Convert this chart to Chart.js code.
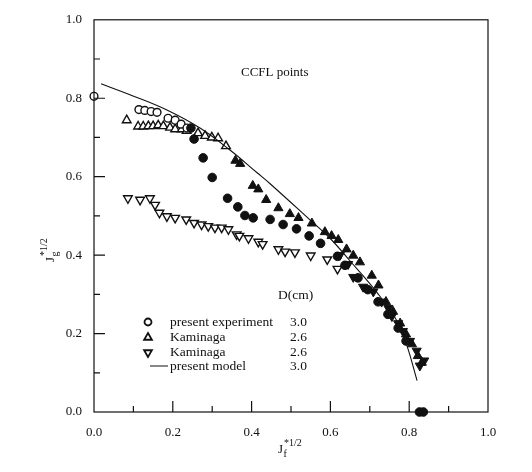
<!DOCTYPE html>
<html>
<head>
<meta charset="utf-8">
<script src="https://cdn.jsdelivr.net/npm/chart.js@4"></script>
<style>
  html, body { margin: 0; padding: 0; background: #fff; }
</style>
</head>
<body>
<canvas id="ccflChart" width="532" height="472"></canvas>
<script>
// values
const xTicks = [0, 0.2, 0.4, 0.6, 0.8, 1.0];
const yTicks = [0, 0.2, 0.4, 0.6, 0.8, 1.0];

// present experiment, D = 3.0 cm (open = flooding, filled = other set)
const openCircleX = [0.0, 0.114, 0.129, 0.145, 0.160, 0.188, 0.206, 0.221, 0.236];
const openCircleY = [0.805, 0.771, 0.769, 0.766, 0.764, 0.749, 0.744, 0.734, 0.724];
const filledCircleX = [0.246, 0.254, 0.277, 0.300, 0.339, 0.365, 0.383, 0.404, 0.447, 0.480, 0.514, 0.546,
  0.575, 0.618, 0.637, 0.670, 0.695, 0.721, 0.746, 0.772, 0.792, 0.826, 0.836];
const filledCircleY = [0.724, 0.696, 0.648, 0.598, 0.545, 0.523, 0.501, 0.495, 0.491, 0.478, 0.467, 0.449,
  0.430, 0.397, 0.374, 0.342, 0.312, 0.281, 0.249, 0.214, 0.181, 0.0, 0.0];

// Kaminaga, D = 2.6 cm (up triangles)
const openTriX = [0.083, 0.112, 0.125, 0.138, 0.150, 0.163, 0.176, 0.193, 0.206, 0.223, 0.235, 0.264,
  0.282, 0.299, 0.315, 0.335];
const openTriY = [0.744, 0.728, 0.728, 0.729, 0.729, 0.731, 0.729, 0.725, 0.721, 0.721, 0.717, 0.711,
  0.704, 0.700, 0.698, 0.678];
const filledTriX = [0.359, 0.371, 0.403, 0.417, 0.437, 0.468, 0.497, 0.519, 0.553, 0.586, 0.603, 0.620,
  0.641, 0.658, 0.675, 0.705, 0.722, 0.741, 0.759, 0.777, 0.792, 0.807, 0.822, 0.832];
const filledTriY = [0.641, 0.633, 0.577, 0.568, 0.541, 0.520, 0.505, 0.495, 0.481, 0.459, 0.449, 0.439,
  0.415, 0.399, 0.382, 0.348, 0.323, 0.281, 0.256, 0.226, 0.198, 0.173, 0.143, 0.126];

// Kaminaga, D = 2.6 cm (down triangles)
const openInvX = [0.086, 0.117, 0.142, 0.155, 0.166, 0.185, 0.206, 0.234, 0.254, 0.273, 0.290, 0.307,
  0.324, 0.341, 0.362, 0.369, 0.392, 0.417, 0.428, 0.468, 0.485, 0.510, 0.550, 0.592, 0.618];
const openInvY = [0.545, 0.541, 0.545, 0.528, 0.508, 0.499, 0.495, 0.491, 0.482, 0.478, 0.474, 0.470,
  0.470, 0.466, 0.453, 0.449, 0.443, 0.434, 0.428, 0.415, 0.409, 0.407, 0.399, 0.389, 0.365];
const filledInvX = [0.624, 0.645, 0.658, 0.683, 0.709, 0.730, 0.747, 0.756, 0.772, 0.784, 0.802, 0.819,
  0.827, 0.838];
const filledInvY = [0.400, 0.377, 0.344, 0.319, 0.307, 0.281, 0.265, 0.244, 0.226, 0.206, 0.181, 0.156,
  0.118, 0.131];

// present model, D = 3.0 cm
const modelX = [0.018, 0.099, 0.185, 0.269, 0.345, 0.414, 0.447, 0.548, 0.599, 0.650, 0.718, 0.769, 0.794, 0.820];
const modelY = [0.837, 0.806, 0.770, 0.724, 0.668, 0.610, 0.582, 0.490, 0.443, 0.385, 0.305, 0.232, 0.170, 0.080];

const legendRows = [
  { style: "circle", rotation: 0, label: "present experiment", d: "3.0" },
  { style: "triangle", rotation: 0, label: "Kaminaga", d: "2.6" },
  { style: "triangle", rotation: 180, label: "Kaminaga", d: "2.6" },
  { style: "line", rotation: 0, label: "present model", d: "3.0" }
];

const FONT = "Liberation Serif, Times New Roman, serif";
const INK = "#111";

function pts(xs, ys) {
  return xs.map((x, i) => ({ x: x, y: ys[i] }));
}

function markerSet(label, xs, ys, style, rotation, filled, radius) {
  return {
    type: "scatter",
    label: label,
    data: pts(xs, ys),
    pointStyle: style,
    rotation: rotation,
    pointRadius: radius,
    pointBorderWidth: filled ? 1 : 1.4,
    pointBorderColor: INK,
    pointBackgroundColor: filled ? INK : "#fff",
    showLine: false,
    clip: false
  };
}

function drawMarker(ctx, style, rotation, x, y, r) {
  ctx.save();
  ctx.translate(x, y);
  ctx.rotate(rotation * Math.PI / 180);
  ctx.beginPath();
  if (style === "circle") {
    ctx.arc(0, 0, r, 0, Math.PI * 2);
  } else {
    for (let k = 0; k < 3; k++) {
      const a = k * 2 * Math.PI / 3;
      const px = Math.sin(a) * r, py = -Math.cos(a) * r;
      if (k === 0) ctx.moveTo(px, py); else ctx.lineTo(px, py);
    }
    ctx.closePath();
  }
  ctx.fillStyle = "#fff";
  ctx.fill();
  ctx.lineWidth = 1.8;
  ctx.strokeStyle = INK;
  ctx.stroke();
  ctx.restore();
}

// J with a subscript and a "*1/2" superscript
function drawFlux(ctx, x, y, sub) {
  ctx.textAlign = "left";
  ctx.textBaseline = "alphabetic";
  ctx.font = "13px " + FONT;
  ctx.fillText("J", x, y);
  const w = ctx.measureText("J").width;
  ctx.font = "10px " + FONT;
  ctx.fillText(sub, x + w + 0.5, y + 3.5);
  ctx.fillText("*1/2", x + w + 1, y - 7);
}

const framePlugin = {
  id: "frame",
  afterDraw(chart) {
    const ctx = chart.ctx;
    const a = chart.chartArea;
    const xs = chart.scales.x, ys = chart.scales.y;
    ctx.save();
    ctx.strokeStyle = INK;
    ctx.lineWidth = 1.2;
    ctx.strokeRect(a.left, a.top, a.right - a.left, a.bottom - a.top);

    // inward ticks, major every 0.2, minor in between
    ctx.beginPath();
    for (let i = 1; i < 10; i++) {
      const len = i % 2 === 0 ? 11 : 6;
      const px = xs.getPixelForValue(i / 10);
      ctx.moveTo(px, a.bottom);
      ctx.lineTo(px, a.bottom - len);
      const py = ys.getPixelForValue(i / 10);
      ctx.moveTo(a.left, py);
      ctx.lineTo(a.left + len, py);
    }
    ctx.stroke();

    ctx.fillStyle = INK;
    // axis titles
    drawFlux(ctx, 278, 453, "f");
    ctx.save();
    ctx.translate(54, 262);
    ctx.rotate(-Math.PI / 2);
    drawFlux(ctx, 0, 0, "g");
    ctx.restore();

    // note
    ctx.font = "13px " + FONT;
    ctx.textAlign = "left";
    ctx.textBaseline = "alphabetic";
    ctx.fillText("CCFL points", 241, 76);

    // legend
    ctx.textBaseline = "middle";
    ctx.font = "13.5px " + FONT;
    ctx.fillText("D(cm)", 278, 295);
    const rowY = [322, 337.5, 352.5, 366];
    legendRows.forEach((row, i) => {
      const y = rowY[i];
      if (row.style === "line") {
        ctx.beginPath();
        ctx.lineWidth = 1;
        ctx.moveTo(150, y);
        ctx.lineTo(168, y);
        ctx.stroke();
      } else {
        drawMarker(ctx, row.style, row.rotation, 148, y, row.style === "circle" ? 3.5 : 4.5);
      }
      ctx.fillText(row.label, 170, y);
      ctx.fillText(row.d, 290, y);
    });
    ctx.restore();
  }
};

document.addEventListener("DOMContentLoaded", function () {
  const ctx = document.getElementById("ccflChart").getContext("2d");

  new Chart(ctx, {
    data: {
      datasets: [
        {
          type: "line",
          label: "present model",
          data: pts(modelX, modelY),
          borderColor: INK,
          borderWidth: 1.1,
          pointRadius: 0,
          fill: false,
          tension: 0.4,
          clip: false
        },
        markerSet("present experiment (filled)", filledCircleX, filledCircleY, "circle", 0, true, 4.3),
        markerSet("Kaminaga up (filled)", filledTriX, filledTriY, "triangle", 0, true, 5.3),
        markerSet("Kaminaga down (filled)", filledInvX, filledInvY, "triangle", 180, true, 5.3),
        markerSet("present experiment", openCircleX, openCircleY, "circle", 0, false, 3.9),
        markerSet("Kaminaga up", openTriX, openTriY, "triangle", 0, false, 5),
        markerSet("Kaminaga down", openInvX, openInvY, "triangle", 180, false, 5)
      ]
    },
    options: {
      responsive: false,
      animation: false,
      devicePixelRatio: 1,
      layout: { padding: { left: 0, right: 44, top: 14, bottom: 0 } },
      plugins: {
        legend: { display: false },
        tooltip: { enabled: false }
      },
      scales: {
        x: {
          type: "linear",
          min: 0,
          max: 1,
          afterFit(scale) { scale.height = 60; },
          afterBuildTicks(scale) { scale.ticks = xTicks.map(v => ({ value: v })); },
          grid: { display: false, drawTicks: false },
          border: { display: false },
          ticks: {
            padding: 13,
            color: INK,
            font: { family: FONT, size: 13 },
            callback: v => v.toFixed(1)
          }
        },
        y: {
          type: "linear",
          min: 0,
          max: 1,
          afterFit(scale) { scale.width = 94; },
          afterBuildTicks(scale) { scale.ticks = yTicks.map(v => ({ value: v })); },
          grid: { display: false, drawTicks: false },
          border: { display: false },
          ticks: {
            padding: 12,
            color: INK,
            font: { family: FONT, size: 13 },
            callback: v => v.toFixed(1)
          }
        }
      }
    },
    plugins: [framePlugin]
  });
});
</script>
</body>
</html>
